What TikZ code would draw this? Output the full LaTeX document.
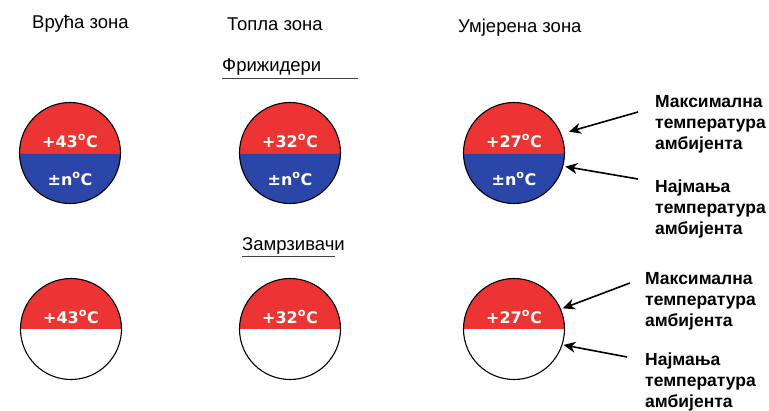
\documentclass[tikz,border=0pt]{standalone}
\usepackage{fontspec}
\setmainfont{Liberation Sans}
\newfontfamily\tempfont{DejaVu Sans}
\usetikzlibrary{arrows.meta, positioning}
\definecolor{hotred}{RGB}{236,52,52}
\definecolor{coldblue}{RGB}{42,70,168}

\begin{document}
\begin{tikzpicture}[
    x=1pt, y=-1pt,
    % circles: upper half red, lower half blue (fridges) or white (freezers)
    zone/.style={circle, draw=black, line width=1.1pt, minimum size=101pt, inner sep=0pt},
    fridge/.style={zone, path picture={
        \fill[hotred] (path picture bounding box.north west) rectangle (path picture bounding box.east);
        \fill[coldblue] (path picture bounding box.west) rectangle (path picture bounding box.south east);
        \draw[black!60, line width=0.6pt] (path picture bounding box.west) -- (path picture bounding box.east);}},
    freezer/.style={zone, path picture={
        \fill[hotred] (path picture bounding box.north west) rectangle (path picture bounding box.east);}},
    temp/.style={anchor=base, inner sep=0pt, text=white!96!yellow, font=\fontsize{16}{18}\tempfont\bfseries},
    title/.style={anchor=base west, inner sep=0pt, font=\fontsize{18.5}{21}\selectfont},
    note/.style={anchor=north west, inner sep=0pt, align=left, font=\fontsize{17.5}{21}\selectfont\bfseries},
    arrow/.style={line width=1.6pt, -{Stealth[length=12pt, width=11pt]}}
]
\useasboundingbox (0,0) rectangle (769,410);

%% ── Headings ────────────────────────────────────────────────
\node (hotT) [title] at (32,28) {Врућа зона};
\node (warmT) [title] at (227,30) {Топла зона};
\node (modT) [title] at (458,32) {Умјерена зона};

\node (fridgeT) [title] at (222,71) {Фрижидери};
\draw [line width=1pt, black!75] ([yshift=-7pt]fridgeT.base west) -- ++(136,0);
\node (freezerT) [title] at (242,250) {Замрзивачи};
\draw [line width=1pt, black!75] ([yshift=-6pt]freezerT.base west) -- ++(93,0);

%% ── Fridges ─────────────────────────────────────────────────
\node (hotF) [fridge] at (70,153) {};
\node (warmF) [fridge] at (290,153) {};
\node (modF) [fridge] at (514,153) {};

\node (hotFmax) [temp] at (70,147) {+43\textsuperscript{o}C};
\node (hotFmin) [temp] at (70,185) {±n\textsuperscript{o}C};
\node (warmFmax) [temp] at (290,147) {+32\textsuperscript{o}C};
\node (warmFmin) [temp] at (290,185) {±n\textsuperscript{o}C};
\node (modFmax) [temp] at (514,147) {+27\textsuperscript{o}C};
\node (modFmin) [temp] at (514,185) {±n\textsuperscript{o}C};

%% ── Freezers ────────────────────────────────────────────────
\node (hotZ) [freezer] at (71,329) {};
\node (warmZ) [freezer] at (290,329) {};
\node (modZ) [freezer] at (514,329) {};

\node (hotZmax) [temp] at (71,323) {+43\textsuperscript{o}C};
\node (warmZmax) [temp] at (290,323) {+32\textsuperscript{o}C};
\node (modZmax) [temp] at (514,323) {+27\textsuperscript{o}C};

%% ── Notes on the right ──────────────────────────────────────
\node (maxF) [note] at (655,95) {Максимална\\температура\\амбијента};
\node (minF) [note] at (655,180) {Најмања\\температура\\амбијента};
\node (maxZ) [note] at (645,272) {Максимална\\температура\\амбијента};
\node (minZ) [note] at (645,353) {Најмања\\температура\\амбијента};

\coordinate (maxFtail) at (638,112);
\coordinate (minFtail) at (638,179);
\coordinate (maxZtail) at (630,283);
\coordinate (minZtail) at (627,357);

%% ── Arrows ──────────────────────────────────────────────────
\draw [arrow, shorten >=8pt] (maxFtail) -- (modF.22);
\draw [arrow, shorten >=2pt] (minFtail) -- (modF.-15);
\draw [arrow, shorten >=2pt] (maxZtail) -- (modZ.23);
\draw [arrow, shorten >=1pt] (minZtail) -- (modZ.-18);

\end{tikzpicture}
\end{document}
